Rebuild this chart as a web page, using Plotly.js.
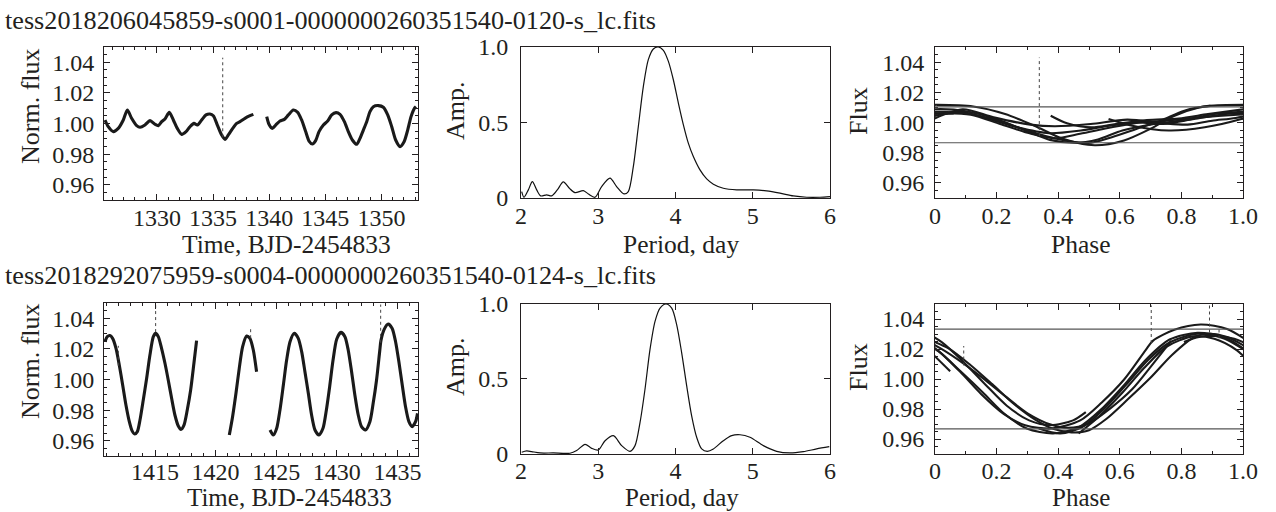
<!DOCTYPE html>
<html>
<head>
<meta charset="utf-8">
<script src="https://cdn.plot.ly/plotly-3.0.1.min.js"></script>
<style>html,body{margin:0;padding:0;background:#fff;}#chart{width:1276px;height:512px;}</style>
</head>
<body>
<div id="chart"></div>
<script>
// ---------- data ----------
const fileTop = "tess2018206045859-s0001-0000000260351540-0120-s_lc.fits";
const fileBottom = "tess2018292075959-s0004-0000000260351540-0124-s_lc.fits";

// Sector 1 light curve (null = data gap)
const timeTop = [1325.37,1325.66,1326.11,1326.55,1327.00,1327.36,1327.74,1328.19,1328.49,1328.93,1329.38,1329.82,1330.12,1330.42,1330.71,1331.10,1331.46,1331.81,1332.20,1332.59,1332.94,1333.30,1333.60,1333.98,1334.37,1334.72,1335.02,1335.38,1335.76,1336.06,1336.36,1336.75,1337.10,1337.40,1337.84,1338.29,1338.59,null,
  1339.78,1339.98,1340.28,1340.58,1340.96,1341.35,1341.71,1342.15,1342.54,1342.89,1343.25,1343.55,1343.85,1344.14,1344.44,1344.83,1345.21,1345.57,1345.95,1346.31,1346.70,1347.05,1347.41,1347.80,1348.09,1348.39,1348.69,1348.98,1349.28,1349.73,1350.17,1350.56,1350.92,1351.27,1351.66,1352.02,1352.34,1352.64,1352.94,1353.08];
const fluxTop = [1.0023,0.9979,0.9947,0.9968,1.0023,1.0088,1.0034,0.9986,0.9975,0.9990,1.0019,0.9995,0.9986,1.0012,1.0030,1.0073,1.0023,0.9968,0.9929,0.9947,0.9979,1.0001,0.9990,1.0023,1.0056,1.0062,1.0051,0.9990,0.9925,0.9896,0.9925,0.9968,1.0001,1.0012,1.0034,1.0051,1.0060,null,
  1.0045,0.9995,0.9968,0.9990,1.0016,1.0027,1.0056,1.0088,1.0073,1.0023,0.9947,0.9885,0.9866,0.9888,0.9947,0.9990,1.0016,1.0056,1.0071,1.0060,1.0012,0.9947,0.9892,0.9864,0.9903,0.9957,1.0012,1.0078,1.0110,1.0117,1.0106,1.0056,0.9979,0.9892,0.9849,0.9881,0.9957,1.0045,1.0099,1.0110];
// outlier spikes (vertical dotted features)
const spikeTimeTop = [1335.86,1335.86];
const spikeFluxTop = [0.991,1.043];

// Sector 4 light curve
const timeBottom = [1410.87,1411.06,1411.28,1411.50,1411.78,1412.05,1412.33,1412.60,1412.88,1413.10,1413.32,1413.54,1413.76,1414.03,1414.31,1414.58,1414.86,1415.05,1415.27,1415.54,1415.82,1416.09,1416.37,1416.64,1416.92,1417.14,1417.39,1417.66,1417.94,1418.21,1418.43,null,
  1421.13,1421.40,1421.68,1421.95,1422.23,1422.56,1422.83,1423.11,1423.38,null,
  1424.49,1424.76,1425.04,1425.31,1425.59,1425.86,1426.14,1426.49,1426.82,1427.10,1427.37,1427.65,1427.92,1428.20,1428.53,1428.86,1429.14,1429.41,1429.69,1429.99,1430.34,1430.67,1430.94,1431.22,1431.49,1431.77,1432.04,1432.37,1432.73,1433.00,1433.28,1433.55,1433.64,1433.91,1434.24,1434.57,1434.85,1435.12,1435.40,1435.67,1435.95,1436.22,1436.50,1436.66];
const fluxBottom = [1.0247,1.0280,1.0287,1.0269,1.0204,1.0095,0.9964,0.9833,0.9724,0.9666,0.9644,0.9659,0.9735,0.9866,1.0008,1.0160,1.0280,1.0302,1.0280,1.0204,1.0106,0.9997,0.9877,0.9768,0.9696,0.9674,0.9702,0.9801,0.9931,1.0106,1.0254,null,
  0.9637,0.9757,0.9910,1.0073,1.0215,1.0284,1.0269,1.0193,1.0051,null,
  0.9670,0.9637,0.9681,0.9801,0.9964,1.0127,1.0247,1.0302,1.0269,1.0182,1.0051,0.9910,0.9768,0.9670,0.9637,0.9681,0.9801,0.9953,1.0127,1.0263,1.0308,1.0280,1.0193,1.0051,0.9899,0.9768,0.9692,0.9670,0.9724,0.9844,0.9997,1.0193,1.0254,1.0328,1.0363,1.0334,1.0247,1.0117,0.9964,0.9822,0.9724,0.9692,0.9724,0.9779];
const spikeTimeBottom = [1411.97,1411.97,null,1415.05,1415.05,null,1422.89,1422.89,null,1433.62,1433.62];
const spikeFluxBottom = [1.009,1.022,null,1.031,1.050,null,1.027,1.034,null,1.024,1.049];

// Periodograms
const periodTop = [2.009,2.039,2.095,2.147,2.203,2.255,2.332,2.397,2.470,2.548,2.626,2.699,2.807,2.872,2.958,3.044,3.152,3.238,3.333,3.389,3.454,3.519,3.584,3.648,3.713,3.778,3.843,3.908,3.972,4.037,4.102,4.166,4.231,4.317,4.404,4.490,4.619,4.792,5.008,5.180,5.353,5.525,5.698,5.871,6.0];
const ampTop = [0.038,0.0,0.049,0.104,0.049,0.009,0.016,0.009,0.049,0.102,0.060,0.031,0.044,0.022,0.0,0.071,0.127,0.071,0.022,0.038,0.204,0.471,0.738,0.916,0.987,1.0,0.978,0.904,0.782,0.627,0.482,0.360,0.271,0.182,0.122,0.087,0.060,0.049,0.049,0.042,0.027,0.009,0.0,0.0,0.004];
const periodBottom = [2.009,2.073,2.138,2.246,2.419,2.634,2.721,2.829,2.915,3.001,3.088,3.196,3.303,3.411,3.476,3.541,3.605,3.670,3.735,3.800,3.877,3.951,4.015,4.080,4.145,4.209,4.274,4.339,4.412,4.490,4.619,4.727,4.835,4.964,5.137,5.309,5.482,5.655,5.827,5.991];
const ampBottom = [0.007,0.016,0.011,0.002,0.002,0.0,0.018,0.060,0.033,0.022,0.084,0.118,0.051,0.013,0.051,0.207,0.429,0.696,0.884,0.973,1.0,0.973,0.862,0.673,0.451,0.251,0.107,0.029,0.013,0.029,0.084,0.118,0.124,0.107,0.051,0.013,0.002,0.011,0.029,0.044];

// Folding ephemerides (period, epoch of phase 0) and reference levels
const periodFoldTop = 3.78, epochTop = 1334.58;
const periodFoldBottom = 3.86, epochBottom = 1430.91;
const levelsTop = [1.0103, 0.9866];
const levelsBottom = [1.0333, 0.9667];

// ticks
const lcYTicks = [0.96,0.98,1.00,1.02,1.04];
const lcYText = ["0.96","0.98","1.00","1.02","1.04"];
const timeTicksTop = [1330,1335,1340,1345,1350];
const timeTicksBottom = [1415,1420,1425,1430,1435];
const periodTicks = [2,3,4,5,6];
const ampTicks = [0,0.5,1.0];
const ampText = ["0","0.5","1.0"];
const phaseTicks = [0,0.2,0.4,0.6,0.8,1.0];
const phaseText = ["0","0.2","0.4","0.6","0.8","1.0"];

// ---------- helpers ----------
function fold(ts, fs, P, t0){
  const X=[],Y=[]; let pp=null,pf=null;
  for(let i=0;i<ts.length;i++){
    const t=ts[i], f=fs[i];
    if(t===null||f===null){X.push(null);Y.push(null);pp=null;continue;}
    let ph=((t-t0)/P)%1; if(ph<0) ph+=1;
    if(pp!==null && ph<pp){ X.push(ph+1);Y.push(f);X.push(null);Y.push(null);X.push(pp-1);Y.push(pf); }
    X.push(ph);Y.push(f);pp=ph;pf=f;
  }
  return {X,Y};
}
const W=1276,H=512;
const FONT='"Liberation Serif", "Times New Roman", serif';
const ink='#231f20';
const xd=(l,r)=>[l/W,r/W];
const yd=(t,b)=>[1-b/H,1-t/H];
function ax(domain, range, anchor, extra){
  return Object.assign({domain, range, anchor, showline:true, linecolor:ink, linewidth:1, mirror:'allticks',
    ticks:'inside', ticklen:6, tickwidth:1, tickcolor:ink, showgrid:false, zeroline:false,
    tickfont:{family:FONT,size:24,color:ink}, fixedrange:true}, extra||{});
}
const minor=(d)=>({ticks:'inside',ticklen:3,dtick:d,tickcolor:ink,showgrid:false});

const fT = fold(timeTop, fluxTop, periodFoldTop, epochTop);
const fTs = fold(spikeTimeTop, spikeFluxTop, periodFoldTop, epochTop);
const fB = fold(timeBottom, fluxBottom, periodFoldBottom, epochBottom);
const fBs = fold(spikeTimeBottom, spikeFluxBottom, periodFoldBottom, epochBottom);

const lc = {mode:'lines', line:{color:'#1a1a1a',width:3.1,shape:'spline',smoothing:0.7}, hoverinfo:'skip'};
const sp = {mode:'lines', line:{color:'#444',width:1,dash:'dot'}, hoverinfo:'skip'};
const pg = {mode:'lines', line:{color:'#111',width:1.2,shape:'spline',smoothing:0.8}, hoverinfo:'skip'};
const ph = {mode:'lines', line:{color:'#1a1a1a',width:2.1,shape:'spline',smoothing:0.8}, hoverinfo:'skip'};

const data = [
  Object.assign({x:timeTop,y:fluxTop,xaxis:'x',yaxis:'y'},lc),
  Object.assign({x:spikeTimeTop,y:spikeFluxTop,xaxis:'x',yaxis:'y'},sp),
  Object.assign({x:periodTop,y:ampTop,xaxis:'x2',yaxis:'y2'},pg),
  Object.assign({x:fT.X,y:fT.Y,xaxis:'x3',yaxis:'y3'},ph),
  Object.assign({x:fTs.X,y:fTs.Y,xaxis:'x3',yaxis:'y3'},sp),
  Object.assign({x:timeBottom,y:fluxBottom,xaxis:'x4',yaxis:'y4'},lc),
  Object.assign({x:spikeTimeBottom,y:spikeFluxBottom,xaxis:'x4',yaxis:'y4'},sp),
  Object.assign({x:periodBottom,y:ampBottom,xaxis:'x5',yaxis:'y5'},pg),
  Object.assign({x:fB.X,y:fB.Y,xaxis:'x6',yaxis:'y6'},ph),
  Object.assign({x:fBs.X,y:fBs.Y,xaxis:'x6',yaxis:'y6'},sp)
];

const lcY = (dom,anchor,so)=>ax(dom,[0.95,1.05],anchor,{tickvals:lcYTicks,ticktext:lcYText,minor:minor(0.005),ticklabelstandoff:so});
const layout = {
  width:W, height:H, margin:{l:0,r:0,t:0,b:0}, showlegend:false,
  paper_bgcolor:'#fff', plot_bgcolor:'#fff', font:{family:FONT,color:ink},
  xaxis:  ax(xd(104,418),[1325.28,1353.26],'y',{tickvals:timeTicksTop,minor:minor(1),ticklabelstandoff:-4}),
  yaxis:  lcY(yd(47,200),'x',4),
  xaxis2: ax(xd(521,830),[2,6],'y2',{tickvals:periodTicks,ticklabelstandoff:-4}),
  yaxis2: ax(yd(47,198),[-0.005,1.0],'x2',{tickvals:ampTicks,ticktext:ampText,ticklabelstandoff:7}),
  xaxis3: ax(xd(935,1243),[0,1],'y3',{tickvals:phaseTicks,ticktext:phaseText,minor:minor(0.1),ticklabelstandoff:-4}),
  yaxis3: lcY(yd(47,198),'x3',5),
  xaxis4: ax(xd(104,418),[1410.79,1436.70],'y4',{tickvals:timeTicksBottom,minor:minor(1),ticklabelstandoff:-6}),
  yaxis4: lcY(yd(303,456),'x4',4),
  xaxis5: ax(xd(521,830),[2,6],'y5',{tickvals:periodTicks,ticklabelstandoff:-5}),
  yaxis5: ax(yd(304,454),[-0.005,1.0],'x5',{tickvals:ampTicks,ticktext:ampText,ticklabelstandoff:7}),
  xaxis6: ax(xd(935,1243),[0,1],'y6',{tickvals:phaseTicks,ticktext:phaseText,minor:minor(0.1),ticklabelstandoff:-5}),
  yaxis6: lcY(yd(304,454),'x6',5),
  shapes: [],
  annotations: []
};
levelsTop.forEach(v=>layout.shapes.push({type:'line',xref:'x3 domain',x0:0,x1:1,yref:'y3',y0:v,y1:v,line:{color:'#555',width:1.2}}));
levelsBottom.forEach(v=>layout.shapes.push({type:'line',xref:'x6 domain',x0:0,x1:1,yref:'y6',y0:v,y1:v,line:{color:'#555',width:1.2}}));

function note(text,px,py,size,opts){
  layout.annotations.push(Object.assign({text, xref:'paper', yref:'paper', x:px/W, y:1-py/H,
    xanchor:'center', yanchor:'middle', showarrow:false, borderpad:0, font:{family:FONT,size:size,color:ink}}, opts||{}));
}
note(fileTop,4,20.5,26.2,{xanchor:'left'});
note(fileBottom,4,275.5,26.2,{xanchor:'left'});
note('Time, BJD-2454833',286,244,25.5); note('Period, day',681,244,25.5); note('Phase',1081,244,25.5);
note('Time, BJD-2454833',289,497,25); note('Period, day',682,497,25); note('Phase',1081,497,25);
note('Norm. flux',30,106,26,{textangle:-90}); note('Amp.',455,111,26,{textangle:-90}); note('Flux',858,111,26,{textangle:-90});
note('Norm. flux',30,361,26,{textangle:-90}); note('Amp.',455,367,26,{textangle:-90}); note('Flux',858,367,26,{textangle:-90});

Plotly.newPlot('chart', data, layout, {staticPlot:true, displayModeBar:false});
</script>
</body>
</html>
